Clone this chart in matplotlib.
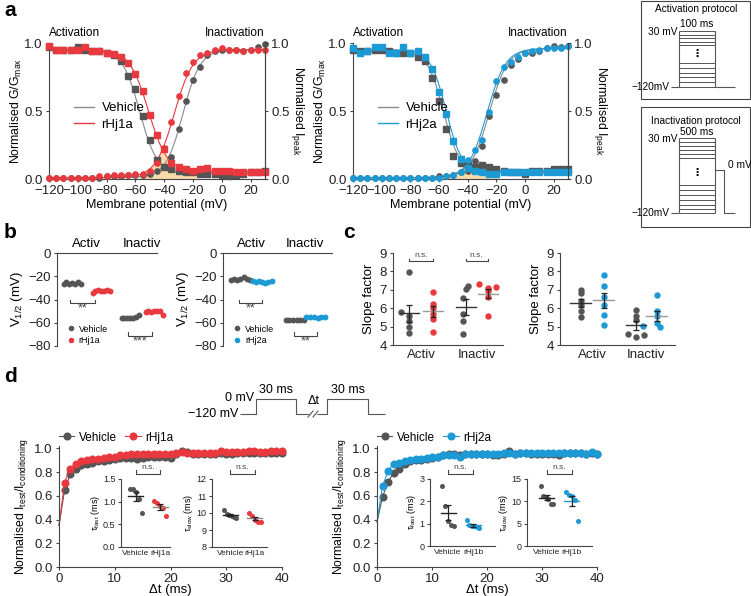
import numpy as np
import matplotlib.pyplot as plt
from matplotlib.patches import Rectangle

plt.rcParams['font.family'] = ['Liberation Sans', 'DejaVu Sans']
plt.rcParams['font.size'] = 9
plt.rcParams['mathtext.default'] = 'regular'
plt.rcParams['axes.linewidth'] = 0.8
plt.rcParams['xtick.major.width'] = 0.8
plt.rcParams['ytick.major.width'] = 0.8
plt.rcParams['xtick.major.size'] = 2.5
plt.rcParams['ytick.major.size'] = 2.5
plt.rcParams['xtick.major.pad'] = 2
plt.rcParams['ytick.major.pad'] = 2

GREY = '#555555'
GREY_LINE = '#8a8a8a'
RED = '#e8393e'
BLUE = '#1c9ad6'
AX_COL = '#444444'

# ---------------- data ----------------
volts = np.arange(-120, 31, 5)

# panel a, left (rHj1a)
a1_veh_sq = [0.97, 0.95, 0.95, 0.95, 0.97, 0.95, 0.94, 0.94, 0.93, 0.91, 0.87, 0.76, 0.66, 0.46, 0.29, 0.14,
             0.09, 0.07, 0.06, 0.05, 0.05, 0.04, 0.04, 0.04, 0.03, 0.02, 0.03, 0.04, 0.05, 0.05, 0.06]
a1_tox_sq = [0.98, 0.95, 0.95, 0.95, 0.95, 0.97, 0.94, 0.94, 0.93, 0.92, 0.90, 0.85, 0.77, 0.65, 0.47, 0.32,
             0.22, 0.12, 0.09, 0.07, 0.06, 0.07, 0.08, 0.06, 0.06, 0.06, 0.05, 0.05, 0.05, 0.05, 0.05]
a1_veh_ci = [0.01, 0.01, 0.01, 0.01, 0.01, 0.01, 0.01, 0.01, 0.02, 0.02, 0.02, 0.03, 0.03, 0.03, 0.04, 0.06,
             0.09, 0.16, 0.37, 0.57, 0.73, 0.82, 0.91, 0.94, 0.95, 0.95, 0.95, 0.94, 0.95, 0.97, 0.99]
a1_tox_ci = [0.01, 0.01, 0.01, 0.01, 0.01, 0.01, 0.01, 0.02, 0.02, 0.03, 0.03, 0.03, 0.04, 0.04, 0.06, 0.12,
             0.23, 0.42, 0.61, 0.78, 0.86, 0.91, 0.93, 0.95, 0.96, 0.95, 0.95, 0.94, 0.95, 0.95, 0.95]
# Boltzmann fit parameters: (V1/2, k, bottom, top)
a1_fit_veh_act = (-27, 6.0, 0.01, 0.95)
a1_fit_tox_act = (-33, 6.5, 0.01, 0.95)
a1_fit_veh_inact = (-57, 6.0, 0.04, 0.95)
a1_fit_tox_inact = (-51, 6.5, 0.055, 0.95)

# panel a, right (rHj2a)
a2_veh_sq = [0.95, 0.94, 0.94, 0.95, 0.95, 0.94, 0.93, 0.93, 0.93, 0.90, 0.87, 0.74, 0.57, 0.37, 0.17, 0.12,
             0.10, 0.09, 0.10, 0.09, 0.07, 0.06, 0.05, 0.05, 0.04, 0.06, 0.06, 0.06, 0.07, 0.07, 0.07]
a2_tox_sq = [0.96, 0.93, 0.94, 0.97, 0.97, 0.93, 0.93, 0.97, 0.93, 0.94, 0.90, 0.81, 0.64, 0.48, 0.28, 0.15,
             0.08, 0.06, 0.05, 0.04, 0.04, 0.05, 0.05, 0.05, 0.05, 0.05, 0.05, 0.05, 0.05, 0.05, 0.05]
a2_veh_ci = [0.01, 0.01, 0.01, 0.01, 0.01, 0.01, 0.01, 0.01, 0.01, 0.01, 0.01, 0.01, 0.02, 0.02, 0.03, 0.05,
             0.06, 0.13, 0.24, 0.46, 0.62, 0.73, 0.84, 0.88, 0.93, 0.93, 0.94, 0.96, 0.98, 0.97, 0.98]
a2_tox_ci = [0.01, 0.01, 0.01, 0.01, 0.01, 0.01, 0.01, 0.01, 0.01, 0.01, 0.01, 0.01, 0.01, 0.02, 0.03, 0.05,
             0.14, 0.21, 0.29, 0.49, 0.72, 0.82, 0.86, 0.90, 0.93, 0.94, 0.95, 0.96, 0.96, 0.96, 0.98]
a2_fit_veh_act = (-25, 6.5, 0.01, 0.96)
a2_fit_tox_act = (-26.5, 6.5, 0.01, 0.96)
a2_fit_veh_inact = (-57, 5.5, 0.06, 0.94)
a2_fit_tox_inact = (-55, 5.5, 0.05, 0.95)
window_range = (-57, -18)

# panel b: V1/2 (mV)
b1_act_veh = [-27, -25, -27, -26, -27, -25, -27]
b1_act_tox = [-34, -33, -32, -33, -33, -32, -33]
b1_inact_veh = [-56, -56, -56, -56, -56, -55, -53]
b1_inact_tox = [-51, -50, -51, -50, -50, -50, -53]
b2_act_veh = [-23, -22, -23, -22, -21, -22, -23]
b2_act_tox = [-24, -25, -24, -25, -26, -25, -24]
b2_inact_veh = [-58, -58, -58, -58, -58, -58]
b2_inact_tox = [-55, -55, -55, -56, -55, -55]

# panel c: slope factors
c1_act_veh = [5.8, 7.95, 5.6, 5.3, 5.0, 4.65]
c1_act_tox = [6.9, 6.25, 6.0, 5.7, 5.4, 4.7]
c1_inact_veh = [7.2, 7.05, 6.55, 5.7, 5.3, 4.6]
c1_inact_tox = [7.3, 7.15, 7.1, 6.95, 6.6, 5.6]
c2_act_veh = [7.0, 6.8, 6.4, 6.2, 5.85, 5.5]
c2_act_tox = [7.8, 7.2, 6.6, 6.2, 5.65, 5.1]
c2_inact_veh = [5.9, 5.6, 5.35, 4.6, 4.55, 4.45]
c2_inact_tox = [6.7, 5.85, 5.55, 5.2, 5.05, 5.0]

# panel d: recovery from inactivation
d_time = np.arange(1, 41)
d1_start = 0.35
d1_veh = [0.65, 0.78, 0.83, 0.86, 0.87, 0.88, 0.89, 0.89, 0.90, 0.91, 0.92, 0.92, 0.92, 0.91, 0.92, 0.93,
          0.93, 0.93, 0.93, 0.92, 0.95, 0.98, 0.97, 0.95, 0.95, 0.95, 0.95, 0.95, 0.96, 0.95, 0.95, 0.96,
          0.96, 0.96, 0.96, 0.96, 0.96, 0.96, 0.96, 0.96]
d1_tox = [0.71, 0.83, 0.87, 0.89, 0.90, 0.91, 0.91, 0.92, 0.93, 0.93, 0.94, 0.94, 0.95, 0.95, 0.95, 0.95,
          0.95, 0.95, 0.95, 0.95, 0.96, 0.97, 0.96, 0.96, 0.96, 0.96, 0.96, 0.96, 0.98, 0.97, 0.97, 0.97,
          0.97, 0.98, 0.98, 0.97, 0.97, 0.98, 0.98, 0.98]
d2_start = 0.38
d2_veh = [0.59, 0.72, 0.79, 0.83, 0.87, 0.89, 0.90, 0.90, 0.91, 0.92, 0.93, 0.94, 0.95, 0.95, 0.94, 0.95,
          0.95, 0.95, 0.95, 0.95, 0.94, 0.94, 0.95, 0.98, 0.95, 0.96, 0.96, 0.95, 0.95, 0.95, 0.95, 0.95,
          0.94, 0.96, 0.96, 0.96, 0.96, 0.95, 0.96, 0.95]
d2_tox = [0.68, 0.81, 0.87, 0.88, 0.89, 0.90, 0.91, 0.91, 0.92, 0.93, 0.93, 0.94, 0.94, 0.94, 0.93, 0.95,
          0.95, 0.95, 0.95, 0.95, 0.95, 0.95, 0.96, 0.96, 0.95, 0.96, 0.96, 0.96, 0.96, 0.96, 0.96, 0.96,
          0.96, 0.96, 0.96, 0.96, 0.96, 0.95, 0.97, 0.95]
d1_fast_veh = [1.27, 1.28, 1.22, 1.05, 0.75]
d1_fast_tox = [1.02, 0.97, 0.90, 0.85, 0.68]
d1_slow_veh = [10.2, 9.95, 9.9, 9.85, 9.75, 9.7]
d1_slow_tox = [10.0, 9.8, 9.6, 9.5, 9.5]
d2_fast_veh = [2.7, 1.8, 1.1, 0.95, 0.9]
d2_fast_tox = [1.15, 0.95, 0.9, 0.88, 0.85, 0.8]
d2_slow_veh = [13.5, 11.2, 11.0, 10.5, 9.5, 9.3]
d2_slow_tox = [12.0, 11.5, 11.3, 10.2, 5.5]

# ---------------- figure ----------------
W, H = 751, 596
fig = plt.figure(figsize=(W / 100, H / 100), dpi=100)


def px_axes(left, top, right, bottom):
    return fig.add_axes([left / W, 1 - bottom / H, (right - left) / W, (bottom - top) / H])


def style(ax, spines=('left', 'bottom')):
    for s in ['left', 'right', 'top', 'bottom']:
        ax.spines[s].set_visible(s in spines)
        ax.spines[s].set_color(AX_COL)
    ax.tick_params(colors=AX_COL, labelcolor='#222222')


def act(v, p):
    vh, k, lo, hi = p
    return lo + (hi - lo) / (1 + np.exp((vh - v) / k))


def inact(v, p):
    vh, k, lo, hi = p
    return lo + (hi - lo) / (1 + np.exp((v - vh) / k))


def panel_a(ax, veh_sq, tox_sq, veh_ci, tox_ci, fits, col, name):
    fv_act, ft_act, fv_in, ft_in = fits
    vv = np.linspace(-120, 30, 400)
    lo, hi = window_range
    win = np.minimum(act(vv, ft_act), inact(vv, ft_in))
    ax.fill_between(vv, 0, win, where=(vv > lo) & (vv < hi), color='#f9d49b', alpha=0.85, lw=0, zorder=1)
    ax.plot(vv, act(vv, fv_act), color=GREY_LINE, lw=0.8, zorder=2)
    ax.plot(vv, inact(vv, fv_in), color=GREY_LINE, lw=0.8, zorder=2)
    ax.plot(vv, act(vv, ft_act), color=col, lw=0.8, zorder=2)
    ax.plot(vv, inact(vv, ft_in), color=col, lw=0.8, zorder=2)
    kw = dict(ls='none', ms=3.8, clip_on=False, zorder=3)
    ax.plot(volts, veh_sq, 's', color=GREY, **kw)
    ax.plot(volts, veh_ci, 'o', color=GREY, **kw)
    ax.plot(volts, tox_sq, 's', color=col, **kw)
    ax.plot(volts, tox_ci, 'o', color=col, **kw)
    h1, = ax.plot([], [], color=GREY_LINE, lw=1)
    h2, = ax.plot([], [], color=col, lw=1)
    ax.legend([h1, h2], ['Vehicle', name], loc='center left', bbox_to_anchor=(0.06, 0.46), frameon=False,
              fontsize=9.5, handlelength=1.5, handletextpad=0.6, labelspacing=0.3)
    ax.set_xlim(-120, 30)
    ax.set_ylim(0, 1)
    ax.set_xticks(range(-120, 21, 20))
    ax.set_yticks([0, 0.5, 1.0])
    ax.set_yticklabels(['0.0', '0.5', '1.0'])
    ax.tick_params(labelsize=9.5)
    style(ax, ('left', 'bottom', 'right'))
    ax.set_ylabel('Normalised G/G$_{max}$', labelpad=0, fontsize=8.8)
    ax.set_xlabel('Membrane potential (mV)', labelpad=1, fontsize=9)
    tw = ax.twinx()
    tw.set_ylim(0, 1)
    tw.set_yticks([0, 0.5, 1.0])
    tw.set_yticklabels(['0.0', '0.5', '1.0'])
    tw.tick_params(labelsize=9.5)
    style(tw, ('right',))
    tw.set_ylabel('Normalised I$_{peak}$', rotation=270, labelpad=12, fontsize=8.8)
    ax.text(0.12, 1.03, 'Activation', transform=ax.transAxes, ha='center', va='bottom', fontsize=8.5)
    ax.text(0.86, 1.03, 'Inactivation', transform=ax.transAxes, ha='center', va='bottom', fontsize=8.5)


panel_a(px_axes(49, 43, 265, 179), a1_veh_sq, a1_tox_sq, a1_veh_ci, a1_tox_ci,
        (a1_fit_veh_act, a1_fit_tox_act, a1_fit_veh_inact, a1_fit_tox_inact), RED, 'rHj1a')
panel_a(px_axes(353, 43, 568, 179), a2_veh_sq, a2_tox_sq, a2_veh_ci, a2_tox_ci,
        (a2_fit_veh_act, a2_fit_tox_act, a2_fit_veh_inact, a2_fit_tox_inact), BLUE, 'rHj2a')


def bracket(ax, x0, x1, y, h, txt, tx_off, fs=8, transform=None):
    tr = transform if transform is not None else ax.transData
    ax.plot([x0, x0, x1, x1], [y + h, y, y, y + h], color=AX_COL, lw=0.8, transform=tr, clip_on=False)
    ax.text((x0 + x1) / 2, y + tx_off, txt, ha='center', va='center', fontsize=fs, color=AX_COL,
            transform=tr, clip_on=False)


def panel_b(ax, groups, centers, col, name, brackets):
    for vals, cx, c in zip(groups, centers, [GREY, col, GREY, col]):
        xs = cx + np.linspace(-0.85, 0.85, len(vals))
        ax.plot(xs, vals, 'o', color=c, ms=3.2, ls='none', clip_on=False)
    ax.set_xlim(0, 10)
    ax.set_ylim(-80, 0)
    ax.set_yticks([0, -20, -40, -60, -80])
    ax.tick_params(labelsize=9.5)
    style(ax, ('left', 'top'))
    ax.xaxis.set_visible(False)
    ax.set_ylabel('V$_{1/2}$ (mV)', labelpad=2, fontsize=9.5)
    ax.text((centers[0] + centers[1]) / 2, 3, 'Activ', ha='center', va='bottom', fontsize=9.5)
    ax.text((centers[2] + centers[3]) / 2, 3, 'Inactiv', ha='center', va='bottom', fontsize=9.5)
    for x0, x1, y, txt in brackets:
        bracket(ax, x0, x1, y, 3, txt, -5, fs=9)
    h1, = ax.plot([], [], 'o', color=GREY, ms=3)
    h2, = ax.plot([], [], 'o', color=col, ms=3)
    ax.legend([h1, h2], ['Vehicle', name], loc='lower left', bbox_to_anchor=(0.02, -0.08), frameon=False,
              fontsize=6.5, handlelength=0.8, handletextpad=0.5, labelspacing=0.3)


panel_b(px_axes(57, 253, 157, 346), [b1_act_veh, b1_act_tox, b1_inact_veh, b1_inact_tox],
        [1.5, 4.4, 7.3, 9.7], RED, 'rHj1a', [(1.3, 3.8, -43, '**'), (7.1, 9.5, -71, '***')])
panel_b(px_axes(223, 253, 332, 346), [b2_act_veh, b2_act_tox, b2_inact_veh, b2_inact_tox],
        [1.6, 3.6, 6.6, 8.5], BLUE, 'rHj2a', [(1.5, 3.6, -43, '**'), (6.5, 8.6, -71, '**')])


def dot_mean(ax, vals, cx, offs, c, mean_col, half=0.9, ms=3.6):
    vals = np.asarray(vals)
    ax.plot(cx + np.asarray(offs), vals, 'o', color=c, ms=ms, ls='none', clip_on=False, zorder=2)
    m = vals.mean()
    sem = vals.std(ddof=1) / np.sqrt(len(vals))
    ax.plot([cx - half, cx + half], [m, m], color=mean_col, lw=1.0, zorder=3)
    ax.errorbar(cx, m, yerr=sem, color='#222222', capsize=2.5, lw=0.9, capthick=0.9, zorder=3)


def panel_c(ax, groups, centers, offsets, col, show_ns):
    for vals, cx, offs, c, mc in zip(groups, centers, offsets, [GREY, col, GREY, col],
                                     ['#333333', '#999999', '#333333', '#999999']):
        dot_mean(ax, vals, cx, offs, c, mc)
    ax.set_xlim(0, 10)
    ax.set_ylim(4, 9)
    ax.set_yticks(range(4, 10))
    ax.set_xticks([(centers[0] + centers[1]) / 2, (centers[2] + centers[3]) / 2])
    ax.set_xticklabels(['Activ', 'Inactiv'], fontsize=9.5)
    ax.tick_params(axis='x', length=0, pad=3)
    ax.tick_params(axis='y', labelsize=9.5)
    style(ax)
    ax.set_ylabel('Slope factor', labelpad=3, fontsize=9.5)
    if show_ns:
        bracket(ax, centers[0], centers[1], 8.55, 0.15, 'n.s.', 0.3, fs=6)
        bracket(ax, centers[2], centers[3], 8.55, 0.15, 'n.s.', 0.3, fs=6)


zero6 = [0, 0, 0, 0, 0, 0]
panel_c(px_axes(393, 253, 503, 345), [c1_act_veh, c1_act_tox, c1_inact_veh, c1_inact_tox],
        [1.5, 3.6, 6.6, 8.6],
        [[-0.8, 0, 0, 0, 0, 0], [0, 0, 0, 0, 0, 0], [0.2, 0, -0.2, -0.2, -0.2, -0.2], [-0.8, 0.8, 0, 0, 0, 0]],
        RED, True)
panel_c(px_axes(560, 253, 675, 345), [c2_act_veh, c2_act_tox, c2_inact_veh, c2_inact_tox],
        [1.8, 3.8, 6.6, 8.4],
        [zero6, zero6, [0, 0, 0, -0.7, 0.7, 0], [0, 0, 0, 0, -1.2, 0.3]],
        BLUE, False)


def panel_d(ax, veh, tox, start, col, name):
    xs = np.r_[0, d_time]
    ax.plot(xs, np.r_[start, veh], '-o', color=GREY, mfc=GREY, mec=GREY, ms=4.8, lw=0.8,
            markevery=slice(1, None), clip_on=False, label='Vehicle')
    ax.plot(xs, np.r_[start, tox], '-o', color=col, mfc=col, mec=col, ms=4.8, lw=0.8,
            markevery=slice(1, None), clip_on=False, label=name)
    ax.set_xlim(0, 40)
    ax.set_ylim(0, 1.02)
    ax.set_xticks([0, 10, 20, 30, 40])
    ax.set_yticks(np.arange(0, 1.01, 0.2))
    ax.set_yticklabels(['0.0', '0.2', '0.4', '0.6', '0.8', '1.0'])
    ax.tick_params(labelsize=9.5)
    style(ax)
    ax.set_xlabel('Δt (ms)', labelpad=-1, fontsize=9.5)
    ax.set_ylabel('Normalised I$_{test}$/I$_{conditioning}$', labelpad=3, fontsize=8.8)
    ax.legend(loc='lower left', bbox_to_anchor=(0.0, 1.02), ncol=2, frameon=False, fontsize=8.5,
              handlelength=1.3, columnspacing=0.7, handletextpad=0.4, borderaxespad=0, borderpad=0)


def inset(ax, veh, tox, col, tox_name, ylim, yticks, yfmt, ylabel, xlim):
    dot_mean(ax, veh, 0, np.linspace(-0.25, 0.25, len(veh)), GREY, '#222222', half=0.3, ms=2.6)
    dot_mean(ax, tox, 1, np.linspace(-0.25, 0.25, len(tox)), col, '#888888' if col == RED else col,
             half=0.3, ms=2.6)
    ax.set_xlim(*xlim)
    ax.set_ylim(*ylim)
    ax.set_yticks(yticks)
    ax.set_yticklabels([yfmt.format(v) for v in yticks])
    ax.set_xticks([0, 1])
    ax.set_xticklabels(['Vehicle', tox_name])
    ax.tick_params(labelsize=6.5, length=2)
    ax.tick_params(axis='x', length=0, pad=2, labelsize=6.0)
    style(ax)
    ax.patch.set_alpha(0)
    ax.set_ylabel(ylabel, fontsize=6.5, labelpad=1)
    bracket(ax, 0, 1, 1.08, 0.05, 'n.s.', 0.09, fs=6, transform=ax.get_xaxis_transform())


ax_d1 = px_axes(59, 446, 282, 567)
panel_d(ax_d1, d1_veh, d1_tox, d1_start, RED, 'rHj1a')
inset(px_axes(121, 479, 170, 547), d1_fast_veh, d1_fast_tox, RED, 'rHj1a',
      (0, 1.5), [0, 0.5, 1.0, 1.5], '{:.1f}', 'τ$_{fast}$ (ms)', (-0.6, 1.4))
inset(px_axes(212, 479, 267, 547), d1_slow_veh, d1_slow_tox, RED, 'rHj1a',
      (8, 12), [8, 9, 10, 11, 12], '{:.0f}', 'τ$_{slow}$ (ms)', (-0.75, 1.5))

ax_d2 = px_axes(377, 446, 597, 567)
panel_d(ax_d2, d2_veh, d2_tox, d2_start, BLUE, 'rHj2a')
inset(px_axes(430, 479, 495, 546), d2_fast_veh, d2_fast_tox, BLUE, 'rHj1b',
      (0, 3), [0, 1, 2, 3], '{:.0f}', 'τ$_{fast}$ (ms)', (-0.72, 1.88))
inset(px_axes(527, 479, 592, 546), d2_slow_veh, d2_slow_tox, BLUE, 'rHj1b',
      (0, 15), [0, 5, 10, 15], '{:.0f}', 'τ$_{slow}$ (ms)', (-0.79, 1.8))

# ---------------- overlay: panel letters and protocol schematics ----------------
ov = fig.add_axes([0, 0, 1, 1], zorder=-1)
ov.set_xlim(0, W)
ov.set_ylim(H, 0)
ov.axis('off')
for letter, (x, y) in {'a': (4, 11), 'b': (4, 232), 'c': (343, 232), 'd': (4, 377)}.items():
    ov.text(x, y, letter, fontsize=15, fontweight='bold', va='center', ha='left')

PC = '#555555'
PFS = 7.3


def seg(xs, ys, lw=0.8, c=PC):
    ov.plot(xs, ys, color=c, lw=lw, solid_capstyle='butt')


# activation protocol
ov.add_patch(Rectangle((641, 1), 109, 98, fill=False, ec='#444444', lw=0.8))
ov.text(696, 9, 'Activation protocol', ha='center', va='center', fontsize=PFS)
ov.text(697, 24, '100 ms', ha='center', va='center', fontsize=PFS)
ov.text(677, 32, '30 mV', ha='right', va='center', fontsize=PFS)
ov.text(670, 87, '−120mV', ha='right', va='center', fontsize=PFS)
for y in [31, 35, 38, 42, 45, 63, 68, 73, 77, 82, 87]:
    seg([679, 715], [y, y], lw=0.7)
seg([679, 679], [31, 87])
seg([715, 715], [31, 87])
seg([671, 679], [87, 87])
seg([715, 735], [87, 87])
ov.text(697, 54, '⋮', ha='center', va='center', fontsize=8, fontweight='bold')

# inactivation protocol
ov.add_patch(Rectangle((641, 107), 109, 120, fill=False, ec='#444444', lw=0.8))
ov.text(696, 121, 'Inactivation protocol', ha='center', va='center', fontsize=PFS)
ov.text(697, 132, '500 ms', ha='center', va='center', fontsize=PFS)
ov.text(677, 139, '30 mV', ha='right', va='center', fontsize=PFS)
ov.text(670, 213, '−120mV', ha='right', va='center', fontsize=PFS)
for y in [138, 142, 146, 150, 154, 158, 185, 190, 195, 200, 205, 209, 213]:
    seg([679, 715], [y, y], lw=0.7)
seg([679, 679], [138, 213])
seg([715, 715], [138, 213])
seg([671, 679], [213, 213])
seg([715, 724, 724, 735], [170, 170, 213, 213])
ov.text(728, 165, '0 mV', ha='left', va='center', fontsize=PFS)
ov.text(697, 173, '⋮', ha='center', va='center', fontsize=8, fontweight='bold')

# recovery protocol
seg([240, 256, 256, 296, 296, 327, 327, 368, 368, 385], [414, 414, 399, 399, 414, 414, 399, 399, 414, 414])
ov.plot([309, 319], [417, 411], color='white', lw=3)
ov.plot([308, 313], [417, 411], color=PC, lw=0.8)
ov.plot([313, 318], [417, 411], color=PC, lw=0.8)
ov.text(254, 398, '0 mV', ha='right', va='center', fontsize=9)
ov.text(238, 414, '−120 mV', ha='right', va='center', fontsize=9)
ov.text(276, 390, '30 ms', ha='center', va='center', fontsize=9)
ov.text(348, 390, '30 ms', ha='center', va='center', fontsize=9)
ov.text(314, 401, 'Δt', ha='center', va='center', fontsize=9)

fig.savefig('out.png', dpi=100)
